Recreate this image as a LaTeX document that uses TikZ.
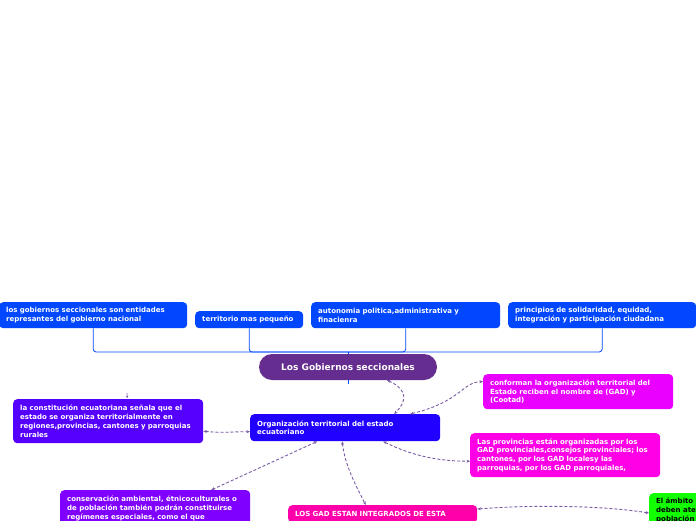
\documentclass[tikz,border=0pt]{standalone}
\usepackage{fontspec}
\setmainfont{DejaVu Sans}
\usepackage{tikz}
\usetikzlibrary{arrows.meta}
\definecolor{topblue}{HTML}{0047FF}
\definecolor{hubpurple}{HTML}{662D91}
\definecolor{orgblue}{HTML}{2000FF}
\definecolor{constviolet}{HTML}{5500FF}
\definecolor{confmag}{HTML}{EA00FF}
\definecolor{provmag}{HTML}{FF00E6}
\definecolor{consviolet}{HTML}{8000FF}
\definecolor{gadpink}{HTML}{FF00AA}
\definecolor{ambgreen}{HTML}{11FF00}
\definecolor{linkpurple}{HTML}{7A5BA6}

\tikzset{
  card/.style={anchor=north west, rounded corners=4pt, text=white,
    font=\fontsize{7}{8.7}\selectfont\bfseries, align=left,
    inner xsep=7pt, inner ysep=0pt},
  hub/.style={fill=hubpurple, rounded corners=13pt, text=white,
    font=\fontsize{9}{10}\selectfont\bfseries,
    minimum width=178pt, minimum height=26pt},
  link/.style={draw=linkpurple, line width=0.9pt, dash pattern=on 3pt off 2pt,
    {Stealth[length=3.5pt,width=3pt]}-{Stealth[length=3.5pt,width=3pt]}},
}

\begin{document}
\begin{tikzpicture}[x=1pt, y=-1pt]
  % page frame in pixels, y grows downward
  \path[use as bounding box, fill=white] (0,0) rectangle (696,520);

  % Top row of boxes
  \node[card, fill=topblue, text width=174pt, minimum height=26pt] (t1) at (-1,302)
    {los gobiernos seccionales son entidades\\represantes del gobierno nacional};
  \node[card, fill=topblue, text width=94pt, minimum height=17pt] (t2) at (195,311)
    {territorio mas pequeño};
  \node[card, fill=topblue, text width=175pt, minimum height=26pt] (t3) at (311,302)
    {autonomia politica,administrativa y\\finacienra};
  \node[card, fill=topblue, text width=174pt, minimum height=26pt] (t4) at (508,302)
    {principios de solidaridad, equidad,\\integración y participación ciudadana};

  % Central topic
  \node[hub] (gob) at (348,367) {Los Gobiernos seccionales};

  % Joins from the top row
  \coordinate (join) at (348,352);
  \foreach \b in {t1,t2,t3,t4} {
    \draw[topblue, line width=0.8pt, rounded corners=3pt] (\b.south) |- (join);
  }
  \draw[topblue, line width=0.8pt] (join) -- (gob.north);
  \coordinate (gobstub) at (348,384);
  \draw[topblue, line width=0.8pt] (gob.south) -- (gobstub);

  % Lower boxes
  \node[card, fill=orgblue, text width=176pt, minimum height=27pt] (org) at (250,414)
    {Organización territorial del estado\\ecuatoriano};
  \node[card, fill=constviolet, text width=176pt, minimum height=44pt] (con) at (13,399)
    {la constitución ecuatoriana señala que el\\estado se organiza territorialmente en\\regiones,provincias, cantones y parroquias\\rurales};
  \node[card, fill=confmag, text width=176pt, minimum height=35pt] (conf) at (483,374)
    {conforman la organización territorial del\\Estado reciben el nombre de (GAD) y\\(Cootad)};
  \node[card, fill=provmag, text width=176pt, minimum height=44pt] (prov) at (470,433)
    {Las provincias están organizadas por los\\GAD provinciales,consejos provinciales; los\\cantones, por los GAD localesy las\\parroquias, por los GAD parroquiales,};
  \node[card, fill=consviolet, text width=176pt, inner ysep=6pt] (cons) at (60,490)
    {conservación ambiental, étnicoculturales o\\de población también podrán constituirse\\regímenes especiales, como el que};
  \node[card, fill=gadpink, text width=175pt, inner ysep=6pt] (gad) at (288,505)
    {LOS GAD ESTAN INTEGRADOS DE ESTA};
  \node[card, fill=ambgreen, text=black, text width=176pt, inner ysep=5pt] (amb) at (649,493)
    {El ámbito\\deben ate\\población};

  % Dashed links
  \draw[link] ([xshift=39pt]gob.south) .. controls +(22,10) and +(12,-12) .. ([xshift=49pt]org.north);
  \draw[link] ([xshift=65pt]org.north) .. controls +(50,-12) and +(-20,0) .. ([yshift=10pt]conf.west);
  \draw[link] ([xshift=38pt]org.south) .. controls +(30,15) and +(-30,0) .. ([yshift=-6pt]prov.west);
  \draw[link] ([yshift=-10pt]con.east) .. controls +(20,2) and +(-20,0) .. ([yshift=-4pt]org.west);
  \draw[link] ([xshift=-28pt]org.south) -- ([xshift=56pt]cons.north);
  \draw[link] ([xshift=-3pt]org.south) .. controls +(3,25) and +(-10,-20) .. ([xshift=-17pt]gad.north);
  \draw[link] ([yshift=-4pt]gad.north east) .. controls +(50,-4) and +(-50,-8) .. ([yshift=-20pt]amb.north west);

  % stray tip above the constitution box
  \coordinate (contip) at (127,393);
  \draw[linkpurple, line width=0.6pt, -{Stealth[length=2.5pt,width=2.5pt]}] (contip) -- ([xshift=19pt,yshift=1pt]con.north);
\end{tikzpicture}
\end{document}
